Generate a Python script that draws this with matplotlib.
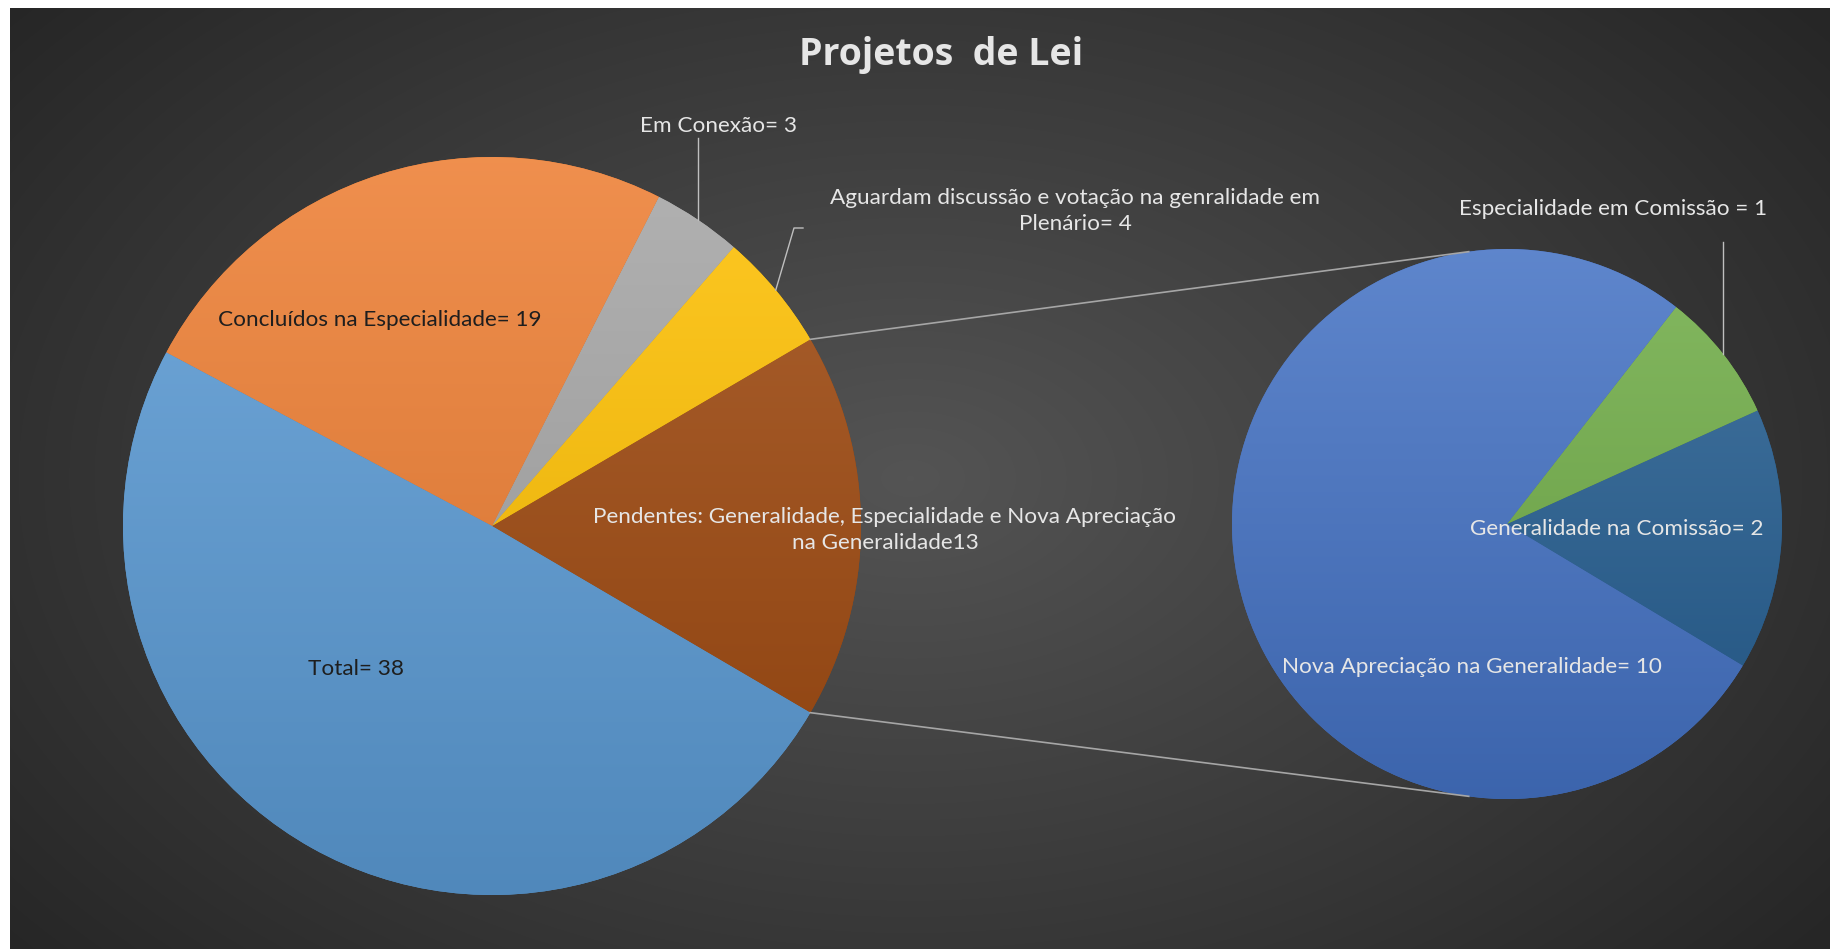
import numpy as np
import matplotlib
matplotlib.use('Agg')
import matplotlib.pyplot as plt
from matplotlib.colors import to_rgb

# data
main_labels = ['Pendentes: Generalidade, Especialidade e Nova Apreciação\nna Generalidade13',
               'Aguardam discussão e votação na genralidade em\nPlenário= 4',
               'Em Conexão= 3',
               'Concluídos na Especialidade= 19',
               'Total= 38']
main_values = [13, 4, 3, 19, 38]
main_colors = ['#9E480E', '#FFC000', '#A5A5A5', '#ED7D31', '#5B9BD5']

sub_labels = ['Generalidade na Comissão= 2',
              'Especialidade em Comissão = 1',
              'Nova Apreciação na Generalidade= 10']
sub_values = [2, 1, 10]
sub_colors = ['#255E91', '#70AD47', '#4472C4']

W, H = 1831, 949
FONT = ['Lato', 'DejaVu Sans']
LIGHT = '#e6e6e6'
DARK = '#1e1e1e'


def blend(c, other, f):
    c = np.array(to_rgb(c))
    return tuple(c + (np.array(other) - c) * f)


def gradient_pie(ax, values, colors, center, radius, start):
    wedges, _ = ax.pie(values, colors=colors, startangle=start, center=center,
                       radius=radius, counterclock=True,
                       wedgeprops=dict(linewidth=0))
    x0, y0 = center
    t = np.linspace(0, 1, 256)[:, None]
    for w, c in zip(wedges, colors):
        top = np.array(blend(c, (1, 1, 1), 0.14))
        bot = np.array(blend(c, (0, 0, 0), 0.12))
        img = top[None, None, :] * (1 - t[..., None]) + bot[None, None, :] * t[..., None]
        img = np.repeat(img, 2, axis=1)
        im = ax.imshow(img, extent=(x0 - radius, x0 + radius, y0 - radius, y0 + radius),
                       origin='upper', zorder=2, interpolation='bilinear')
        im.set_clip_path(w)
    return wedges


def edge(center, r, ang):
    a = np.deg2rad(ang)
    return center[0] + r * np.cos(a), center[1] + r * np.sin(a)


fig = plt.figure(figsize=(W / 100, H / 100), dpi=100)
fig.patch.set_facecolor('white')
ax = fig.add_axes([0, 0, 1, 1])

# dark radial background
yy, xx = np.mgrid[0:941, 0:1821]
d = np.sqrt(((xx - 900) / 1100.0) ** 2 + ((yy - 470) / 700.0) ** 2)
g = np.clip(0.33 - 0.17 * d, 0.15, 0.33)
bg = np.dstack([g, g, g])
ax.imshow(bg, extent=(10, W, 0, H - 8), origin='upper', zorder=0, aspect='auto')

c_main = (492, 423)
r_main = 369
c_sub = (1507, 425)
r_sub = 275

start_main = -360 * main_values[0] / sum(main_values) / 2
gradient_pie(ax, main_values, main_colors, c_main, r_main, start_main)
gradient_pie(ax, sub_values, sub_colors, c_sub, r_sub, -31)

# connector lines between the pies
for s in (1, -1):
    p1 = edge(c_main, r_main, s * abs(start_main))
    p2 = edge(c_sub, r_sub, s * 98)
    ax.plot([p1[0], p2[0]], [p1[1], p2[1]], color='#a6a6a6', lw=1.2, zorder=3)

# leader lines
tot = sum(main_values)
cum = np.cumsum([0] + main_values)
ang = lambda i: start_main + 360 * (cum[i] + cum[i + 1]) / 2 / tot
e = edge(c_main, r_main, ang(2))
ax.plot([e[0], e[0]], [e[1], 811], color='#bfbfbf', lw=1, zorder=3)
e = edge(c_main, r_main, ang(1))
ax.plot([e[0], 794, 803], [e[1], 721, 721], color='#bfbfbf', lw=1, zorder=3)
sc = np.cumsum([0] + sub_values)
a_sub = -31 + 360 * (sc[1] + sc[2]) / 2 / sum(sub_values)
e = edge(c_sub, r_sub, a_sub)
ax.plot([e[0], e[0]], [e[1], 707], color='#bfbfbf', lw=1, zorder=3)

# labels
fs = 16.2
pos_main = [(885, 419), (1075, 738), (719, 823), (380, 629), (356, 280)]
col_main = [LIGHT, LIGHT, LIGHT, DARK, DARK]
for lab, (x, y), col in zip(main_labels, pos_main, col_main):
    ax.text(x, y, lab, ha='center', va='center', color=col, fontsize=fs,
            family=FONT, linespacing=1.4, zorder=5)
pos_sub = [(1617, 420), (1613, 740), (1472, 282)]
for lab, (x, y) in zip(sub_labels, pos_sub):
    ax.text(x, y, lab, ha='center', va='center', color=LIGHT, fontsize=fs,
            family=FONT, zorder=5)

ax.text(941, 894, 'Projetos  de Lei', ha='center', va='center', color='#e6e6e6',
        fontsize=27, fontweight='bold', family=['Open Sans', 'DejaVu Sans'], zorder=5)

ax.set_xlim(0, W)
ax.set_ylim(0, H)
ax.set_aspect('auto')
ax.axis('off')

plt.savefig('out.png', dpi=100, facecolor='white')
